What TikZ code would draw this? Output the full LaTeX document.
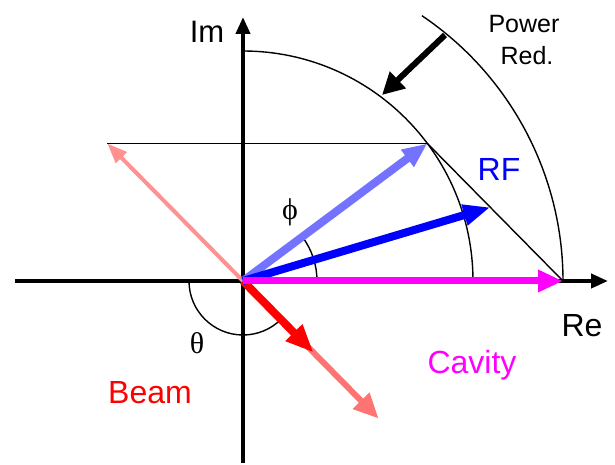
\documentclass[tikz,border=0pt]{standalone}
\usepackage{fontspec}
\setmainfont{Liberation Sans}
\newfontfamily\grk{Liberation Serif}
\usetikzlibrary{arrows.meta}
\definecolor{hblue}{RGB}{115,115,255}
\definecolor{hred}{RGB}{255,115,115}
\definecolor{hpink}{RGB}{255,145,145}
\definecolor{mag}{RGB}{255,0,255}
\begin{document}
\begin{tikzpicture}[x=1pt,y=1pt,
  axis/.style={line width=4pt,-{Triangle[length=17pt,width=14pt]}},
  thinline/.style={line width=1.4pt},
  lbl/.style={font=\fontsize{32}{38}\selectfont, anchor=base, inner sep=0pt},
  grklbl/.style={font=\grk\fontsize{30}{36}\selectfont, inner sep=0pt}
]
\useasboundingbox (-243,-184) rectangle (372,281);
% points
\coordinate (O) at (0,0);
\coordinate (ReL) at (-228,0);
\coordinate (ReR) at (365,0);
\coordinate (ImB) at (0,-182);
\coordinate (ImT) at (0,264);
\coordinate (G) at (184.4,137.5);
\coordinate (C) at (320,0);
\coordinate (B) at (135.6,-137.5);
\coordinate (Bh) at (70.5,-71.5);
\coordinate (P) at (-135.6,137.5);
\coordinate (R) at (247.3,73.7);
\coordinate (PwT) at (202,246);
\coordinate (PwH) at (139,186);
% axes
\draw[axis] (ReL) -- (ReR);
\draw[axis] (ImB) -- (ImT);
% arcs and construction lines
\draw[thinline] (0,230) arc[start angle=90,end angle=0,radius=230];
\draw[thinline] (56:320) arc[start angle=56,end angle=0,radius=320];
\draw[thinline] (74,0) arc[start angle=0,end angle=36.7,radius=74];
\draw[thinline] (-54,0) arc[start angle=180,end angle=315,radius=54];
\draw[thinline] (P) -- (G);
\draw[thinline] (G) -- (C);
% vectors
\draw[line width=4pt, hpink, -{Triangle[length=20pt,width=15pt]}] (O) -- (P);
\draw[line width=6pt, hred, -{Triangle[length=25pt,width=22pt]}] (O) -- (B);
\draw[line width=8pt, red, -{Triangle[length=28pt,width=22pt]}] (O) -- (Bh);
\draw[line width=8pt, hblue, -{Triangle[length=25pt,width=20pt]}] (O) -- (G);
\draw[line width=8pt, blue, -{Triangle[length=27pt,width=20pt]}] (O) -- (R);
\draw[line width=7pt, mag, -{Triangle[length=25pt,width=21pt]}] (O) -- (C);
\draw[line width=6pt, black, -{Triangle[length=22pt,width=22pt]}] (PwT) -- (PwH);
% labels
\node[lbl, font=\fontsize{31}{36}\selectfont] (im) at (-36,238) {Im};
\node[lbl, font=\fontsize{25}{30}\selectfont] (pw1) at (281,248) {Power};
\node[lbl, font=\fontsize{25}{30}\selectfont] (pw2) at (284,216) {Red.};
\node[lbl, text=blue] (rf) at (256,100) {RF};
\node[grklbl] (phi) at (47,69) {ϕ};
\node[lbl] (re) at (339,-56) {Re};
\node[grklbl] (theta) at (-46,-62) {θ};
\node[lbl, text=mag] (cav) at (229,-93) {Cavity};
\node[lbl, text=red] (beam) at (-93,-122) {Beam};
\end{tikzpicture}
\end{document}
